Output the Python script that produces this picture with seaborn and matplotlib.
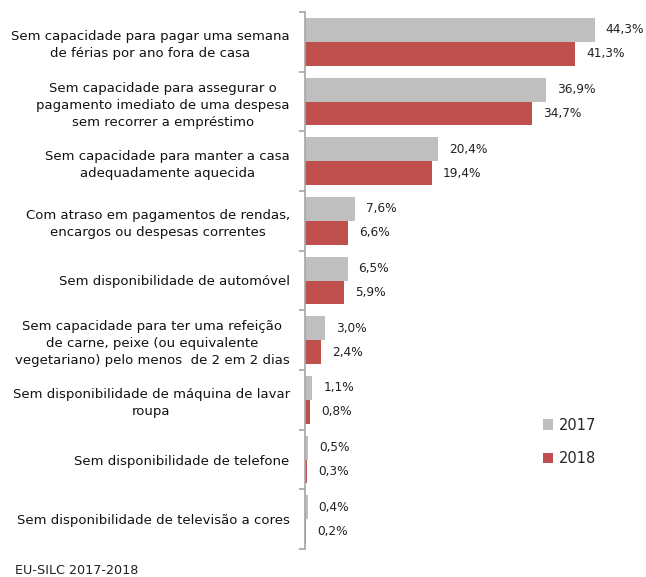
import matplotlib
matplotlib.use("Agg")
import matplotlib.pyplot as plt
import seaborn as sns
import pandas as pd
import numpy as np

categories = [
    "Sem capacidade para pagar uma semana\nde férias por ano fora de casa",
    "Sem capacidade para assegurar o\npagamento imediato de uma despesa\nsem recorrer a empréstimo",
    "Sem capacidade para manter a casa\nadequadamente aquecida",
    "Com atraso em pagamentos de rendas,\nencargos ou despesas correntes",
    "Sem disponibilidade de automóvel",
    "Sem capacidade para ter uma refeição\nde carne, peixe (ou equivalente\nvegetariano) pelo menos  de 2 em 2 dias",
    "Sem disponibilidade de máquina de lavar\nroupa",
    "Sem disponibilidade de telefone",
    "Sem disponibilidade de televisão a cores",
]
years = ["2017", "2018"]
values_2017 = [44.3, 36.9, 20.4, 7.6, 6.5, 3.0, 1.1, 0.5, 0.4]
values_2018 = [41.3, 34.7, 19.4, 6.6, 5.9, 2.4, 0.8, 0.3, 0.2]
colors = ["#BFBFBF", "#C0504D"]

df = pd.DataFrame({
    "cat": categories * 2,
    "val": values_2017 + values_2018,
    "year": [years[0]] * len(categories) + [years[1]] * len(categories),
})

sns.set_style("white")
plt.rcParams["font.family"] = ["DejaVu Sans"]

fig = plt.figure(figsize=(6.46, 5.77), dpi=100)
ax = fig.add_axes([305 / 646, 1 - 549 / 577, 327 / 646, (549 - 12) / 577])

sns.barplot(data=df, y="cat", x="val", hue="year", palette=colors,
            orient="h", width=0.8, ax=ax, saturation=1, legend=True,
            linewidth=0, edgecolor="none")

for cont in ax.containers:
    ax.bar_label(cont, labels=[f"{v:.1f}%".replace(".", ",") for v in cont.datavalues],
                 padding=8, fontsize=8.7, color="#222222")

ax.set_xlim(0, 50)
ax.set_ylim(len(categories) - 0.5, -0.5)
ax.set_xlabel("")
ax.set_ylabel("")
ax.set_xticks([])
for s in ["top", "right", "bottom"]:
    ax.spines[s].set_visible(False)
ax.spines["left"].set_color("#A6A6A6")
ax.spines["left"].set_linewidth(1.2)

ax.set_yticks(np.arange(len(categories)))
ax.set_yticklabels(categories, fontsize=9.5, multialignment="center", color="#111111",
                   linespacing=1.4)
ax.tick_params(axis="y", which="major", length=0, pad=11, left=True)
ax.set_yticks(np.arange(len(categories) + 1) - 0.5, minor=True)
ax.tick_params(axis="y", which="minor", length=4, color="#A6A6A6", width=1.2, left=True)

handles, labels = ax.get_legend_handles_labels()
ax.legend(handles, labels, loc="center left", bbox_to_anchor=(530 / 646, 1 - 442 / 577),
          bbox_transform=fig.transFigure, frameon=False, fontsize=10.5,
          handlelength=0.7, handleheight=0.7, handletextpad=0.4, labelspacing=1.3)

fig.text(15 / 646, 1 - 571 / 577, "EU-SILC 2017-2018", fontsize=9.2, color="#222222",
         va="center", ha="left")

fig.savefig("out.png", dpi=100)
